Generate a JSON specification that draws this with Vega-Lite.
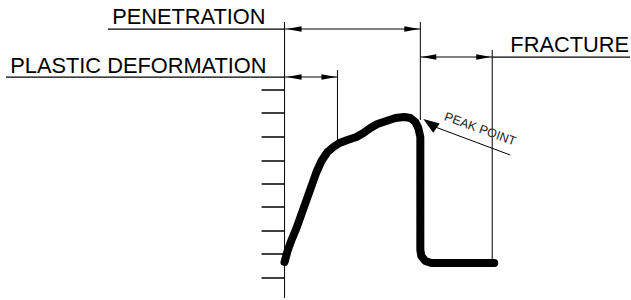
{
  "$schema": "https://vega.github.io/schema/vega-lite/v6.json",
  "width": 631,
  "height": 300,
  "padding": 0,
  "autosize": {"type": "fit", "contains": "padding"},
  "background": "white",
  "config": {"view": {"stroke": null}},
  "datasets": {
    "segments": [
      {"x1": 108, "y1": 29, "x2": 285, "y2": 29, "kind": "underline"},
      {"x1": 285, "y1": 29, "x2": 421, "y2": 29, "kind": "dim"},
      {"x1": 6, "y1": 77, "x2": 285, "y2": 77, "kind": "underline"},
      {"x1": 285, "y1": 77, "x2": 338, "y2": 77, "kind": "dim"},
      {"x1": 493, "y1": 57, "x2": 631, "y2": 57, "kind": "underline"},
      {"x1": 421, "y1": 57, "x2": 493, "y2": 57, "kind": "dim"},
      {"x1": 285, "y1": 22, "x2": 285, "y2": 298, "kind": "dim"},
      {"x1": 421, "y1": 22, "x2": 421, "y2": 120, "kind": "dim"},
      {"x1": 338, "y1": 70, "x2": 338, "y2": 142, "kind": "dim"},
      {"x1": 493, "y1": 50, "x2": 493, "y2": 263, "kind": "dim"},
      {"x1": 436, "y1": 127, "x2": 511, "y2": 155, "kind": "dim"},
      {"x1": 262, "y1": 90, "x2": 285, "y2": 90, "kind": "tick"},
      {"x1": 262, "y1": 113, "x2": 285, "y2": 113, "kind": "tick"},
      {"x1": 262, "y1": 137, "x2": 285, "y2": 137, "kind": "tick"},
      {"x1": 262, "y1": 161, "x2": 285, "y2": 161, "kind": "tick"},
      {"x1": 262, "y1": 184, "x2": 285, "y2": 184, "kind": "tick"},
      {"x1": 262, "y1": 207, "x2": 285, "y2": 207, "kind": "tick"},
      {"x1": 262, "y1": 231, "x2": 285, "y2": 231, "kind": "tick"},
      {"x1": 262, "y1": 254, "x2": 285, "y2": 254, "kind": "tick"},
      {"x1": 262, "y1": 278, "x2": 285, "y2": 278, "kind": "tick"}
    ],
    "curve": [
      {"i": 0, "x": 285, "y": 262},
      {"i": 1, "x": 288, "y": 251},
      {"i": 2, "x": 292, "y": 240},
      {"i": 3, "x": 297, "y": 228},
      {"i": 4, "x": 302, "y": 214},
      {"i": 5, "x": 307, "y": 200},
      {"i": 6, "x": 312, "y": 186},
      {"i": 7, "x": 317, "y": 172},
      {"i": 8, "x": 322, "y": 161},
      {"i": 9, "x": 328, "y": 152},
      {"i": 10, "x": 334, "y": 147},
      {"i": 11, "x": 340, "y": 143},
      {"i": 12, "x": 348, "y": 140},
      {"i": 13, "x": 357, "y": 137},
      {"i": 14, "x": 364, "y": 133},
      {"i": 15, "x": 371, "y": 128},
      {"i": 16, "x": 378, "y": 124},
      {"i": 17, "x": 387, "y": 121},
      {"i": 18, "x": 396, "y": 118},
      {"i": 19, "x": 405, "y": 117},
      {"i": 20, "x": 411, "y": 118},
      {"i": 21, "x": 416, "y": 122},
      {"i": 22, "x": 419, "y": 128},
      {"i": 23, "x": 421, "y": 137},
      {"i": 24, "x": 421, "y": 150},
      {"i": 25, "x": 421, "y": 200},
      {"i": 26, "x": 421, "y": 250},
      {"i": 27, "x": 422, "y": 256},
      {"i": 28, "x": 426, "y": 261},
      {"i": 29, "x": 432, "y": 263},
      {"i": 30, "x": 460, "y": 263},
      {"i": 31, "x": 495, "y": 263}
    ],
    "arrows": [
      {"x": 287, "y": 29, "dir": "left"},
      {"x": 420, "y": 29, "dir": "right"},
      {"x": 287, "y": 77, "dir": "left"},
      {"x": 337, "y": 77, "dir": "right"},
      {"x": 422, "y": 57, "dir": "left"},
      {"x": 492, "y": 57, "dir": "right"}
    ],
    "labels": [
      {"x": 266, "y": 24, "text": "PENETRATION", "pos": "right"},
      {"x": 267, "y": 73, "text": "PLASTIC DEFORMATION", "pos": "right"},
      {"x": 630, "y": 52, "text": "FRACTURE", "pos": "left"}
    ],
    "peak": [
      {"x": 424, "y": 119, "tx": 481, "ty": 129, "text": "PEAK POINT"}
    ]
  },
  "encoding": {},
  "layer": [
    {
      "data": {"name": "segments"},
      "mark": {"type": "rule", "color": "black"},
      "encoding": {
        "x": {"field": "x1", "type": "quantitative", "scale": {"domain": [0, 631], "nice": false, "zero": false}, "axis": null},
        "y": {"field": "y1", "type": "quantitative", "scale": {"domain": [0, 300], "nice": false, "zero": false, "reverse": true}, "axis": null},
        "x2": {"field": "x2"},
        "y2": {"field": "y2"},
        "strokeWidth": {"field": "kind", "type": "nominal", "scale": {"domain": ["dim", "underline", "tick"], "range": [1, 1.5, 2]}, "legend": null}
      }
    },
    {
      "data": {"name": "curve"},
      "mark": {"type": "line", "color": "black", "strokeWidth": 8, "strokeCap": "round", "strokeJoin": "round", "interpolate": "linear"},
      "encoding": {
        "x": {"field": "x", "type": "quantitative"},
        "y": {"field": "y", "type": "quantitative"},
        "order": {"field": "i", "type": "quantitative"}
      }
    },
    {
      "data": {"name": "arrows"},
      "mark": {"type": "point", "filled": true, "color": "black", "opacity": 1, "size": 225, "strokeWidth": 0},
      "encoding": {
        "x": {"field": "x", "type": "quantitative"},
        "y": {"field": "y", "type": "quantitative"},
        "shape": {"field": "dir", "type": "nominal", "scale": {"domain": ["left", "right"], "range": ["M0,0L2,-0.36L2,0.36Z", "M0,0L-2,-0.36L-2,0.36Z"]}, "legend": null}
      }
    },
    {
      "data": {"name": "peak"},
      "mark": {"type": "point", "filled": true, "color": "black", "opacity": 1, "size": 256, "strokeWidth": 0, "shape": "M0,0L2,-0.7L2,0.7Z", "angle": 35},
      "encoding": {
        "x": {"field": "x", "type": "quantitative"},
        "y": {"field": "y", "type": "quantitative"}
      }
    },
    {
      "data": {"name": "peak"},
      "mark": {"type": "text", "font": "Liberation Sans", "fontSize": 12.5, "color": "#222", "angle": 20, "align": "center", "baseline": "middle"},
      "encoding": {
        "x": {"field": "tx", "type": "quantitative"},
        "y": {"field": "ty", "type": "quantitative"},
        "text": {"field": "text"}
      }
    },
    {
      "data": {"name": "labels"},
      "mark": {"type": "text", "font": "Liberation Sans", "fontSize": 21.8, "color": "black", "baseline": "alphabetic", "align": "right"},
      "encoding": {
        "x": {"field": "x", "type": "quantitative"},
        "y": {"field": "y", "type": "quantitative"},
        "text": {"field": "text"}
      }
    }
  ]
}
